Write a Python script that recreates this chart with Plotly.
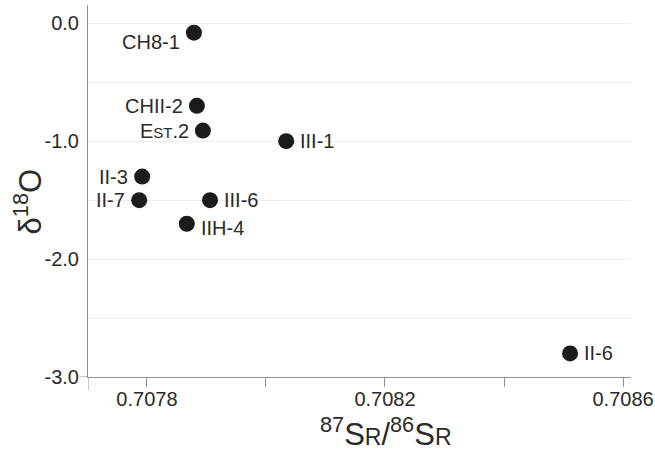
import plotly.graph_objects as go

# data
labels = ["CH8-1", "CHII-2", "E<span style='font-size:15px'>ST</span>.2", "III-1", "II-3",
          "II-7", "III-6", "IIH-4", "II-6"]
sr_ratio = [0.707879, 0.707884, 0.707894, 0.708034, 0.707792,
            0.707787, 0.707906, 0.707867, 0.708511]
d18o = [-0.08, -0.70, -0.91, -1.00, -1.30, -1.50, -1.50, -1.70, -2.80]
label_side = ["left", "left", "left", "right", "left", "left", "right", "right", "right"]
label_dy = [-9, 0, 0, 0, 0, 0, 0, -4, 0]

x_tickvals = [0.7078, 0.7080, 0.7082, 0.7084, 0.7086]
x_ticktext = ["0.7078", "", "0.7082", "", "0.7086"]
y_tickvals = [0.0, -0.5, -1.0, -1.5, -2.0, -2.5, -3.0]
y_ticktext = ["0.0", "", "-1.0", "", "-2.0", "", "-3.0"]

FONT = "Liberation Sans, Arial"
TXT = "#2a2a2a"

fig = go.Figure()
fig.add_trace(go.Scatter(
    x=sr_ratio, y=d18o, mode="markers",
    marker=dict(size=16, color="#1b1b1b"),
    hoverinfo="skip", showlegend=False,
))

for lx, ly, lt, side, dy in zip(sr_ratio, d18o, labels, label_side, label_dy):
    fig.add_annotation(
        x=lx, y=ly, text=lt, showarrow=False,
        xanchor="right" if side == "left" else "left",
        xshift=-12 if side == "left" else 12,
        yshift=dy,
        font=dict(family=FONT, size=20, color=TXT),
    )

axis_col = "#909090"
fig.update_layout(
    width=655, height=449,
    margin=dict(l=88, r=24, t=5, b=72, autoexpand=False),
    plot_bgcolor="white", paper_bgcolor="white",
    font=dict(family=FONT, size=20, color=TXT),
    xaxis=dict(
        range=[0.707701, 0.7086134],
        tickvals=x_tickvals, ticktext=x_ticktext,
        ticks="outside", ticklen=9, tickcolor=axis_col, tickwidth=1,
        showline=True, linecolor=axis_col, linewidth=1,
        showgrid=False, zeroline=False, automargin=False,
        tickfont=dict(size=20, color=TXT),
        ticklabelstandoff=-5,
    ),
    yaxis=dict(
        range=[-3.0, 0.155],
        tickvals=y_tickvals, ticktext=y_ticktext,
        ticks="", showline=True, linecolor=axis_col, linewidth=1,
        showgrid=True, gridcolor="#ededed", gridwidth=1, zeroline=False,
        automargin=False,
        tickfont=dict(size=20, color=TXT),
        ticklabelstandoff=4,
    ),
)

# axis titles
fig.add_annotation(
    xref="paper", yref="paper", x=0, y=0.472, xshift=-60,
    xanchor="center", yanchor="middle", textangle=-90, showarrow=False,
    text="δ<sup>18</sup>O", font=dict(family=FONT, size=31, color=TXT),
)
fig.add_annotation(
    xref="paper", yref="paper", x=0.549, y=0, yshift=-55,
    xanchor="center", yanchor="middle", showarrow=False,
    text="<sup>87</sup>S<span style='font-size:23px'>R</span>/<sup>86</sup>S<span style='font-size:23px'>R</span>",
    font=dict(family=FONT, size=31, color=TXT),
)

# axis overhangs
fig.add_shape(type="line", xref="paper", yref="y", xsizemode="pixel", xanchor=0,
              x0=-8, x1=0, y0=-3.0, y1=-3.0, line=dict(color=axis_col, width=1))
fig.add_shape(type="line", xref="x", yref="paper", ysizemode="pixel", yanchor=0,
              x0=0.707701, x1=0.707701, y0=-13, y1=0, line=dict(color=axis_col, width=1))

fig.write_html(
    "out.html",
    config={"displayModeBar": False},
    post_script="document.body.style.margin='0';document.body.style.overflow='hidden';",
)
